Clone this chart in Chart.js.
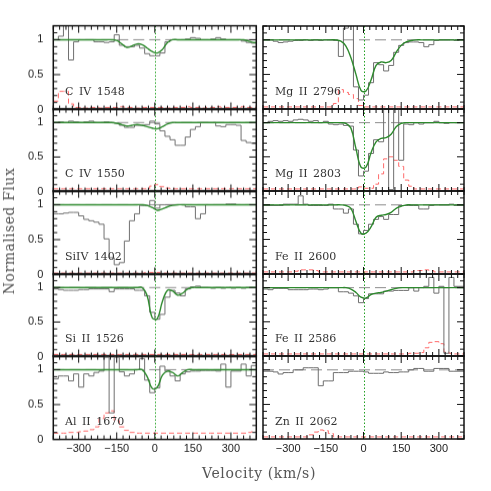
<!DOCTYPE html>
<html lang="en">
<head>
  <meta charset="UTF-8">
  <title>Velocity profiles</title>
  <script src="https://cdn.jsdelivr.net/npm/chart.js@4.4.0/dist/chart.umd.min.js"></script>
  <style>
    html, body { margin: 0; padding: 0; background: #fff; }
    #fig { position: relative; width: 491px; height: 491px; overflow: hidden; background: #fff; }
    #fig canvas { position: absolute; }
    .lbl { position: absolute; font-family: "DejaVu Serif", serif; font-size: 11px; line-height: 14px; color: #333; white-space: pre; word-spacing: 2px; }
    .title { position: absolute; font-family: "DejaVu Serif", serif; font-size: 14px; color: #555; white-space: nowrap; letter-spacing: 0.6px; transform: translate(-50%, -50%); }
  </style>
</head>
<body>
  <div id="fig"></div>

  <script>
    // bin centres (km/s)
    const vel = [-390, -370, -350, -330, -310, -290, -270, -250, -230, -210,
                 -190, -170, -150, -130, -110, -90, -70, -50, -30, -10,
                 10, 30, 50, 70, 90, 110, 130, 150, 170, 190,
                 210, 230, 250, 270, 290, 310, 330, 350, 370, 390];
    const binHalf = 10;
    const xTickLabels = [-300, -150, 0, 150, 300];
    const yTickLabels = [0, 0.5, 1];

    const civ1548Flux = [1.00, 1.05, 1.25, 0.71, 0.97, 1.00, 1.00, 1.00, 0.97, 0.97, 0.96, 0.97, 1.07, 0.92, 0.90, 0.90, 0.92, 0.88, 0.80, 0.77,
                         0.77, 0.81, 0.97, 1.00, 1.00, 1.00, 1.01, 1.03, 1.02, 1.00, 1.00, 1.01, 1.03, 1.01, 1.00, 1.00, 1.00, 0.98, 0.96, 0.95];
    const civ1548Fit  = [1, 1, 1, 1, 1, 1, 1, 1, 1, 1, 1, 1, 0.99, 0.94, 0.89, 0.91, 0.94, 0.93, 0.88, 0.83,
                         0.81, 0.86, 0.96, 1, 1, 1, 1, 1, 1, 1, 1, 1, 1, 1, 1, 1, 1, 1, 0.98, 0.96];
    const civ1548Err  = [0.12, 0.26, 0.26, 0.08, 0.03, 0.03, 0.02, 0.03, 0.03, 0.02, 0.03, 0.03, 0.03, 0.04, 0.03, 0.03, 0.02, 0.03, 0.03, 0.03,
                         0.03, 0.03, 0.02, 0.03, 0.03, 0.03, 0.04, 0.03, 0.03, 0.02, 0.03, 0.03, 0.04, 0.03, 0.03, 0.03, 0.03, 0.04, 0.03, 0.03];

    const civ1550Flux = [1.00, 1.01, 1.00, 1.02, 1.01, 1.00, 1.01, 1.02, 1.00, 1.00, 1.01, 1.00, 0.99, 0.96, 0.93, 0.93, 0.96, 0.96, 0.97, 1.02,
                         0.98, 0.88, 0.80, 0.75, 0.67, 0.67, 0.79, 0.90, 0.94, 1.00, 1.00, 1.00, 0.95, 0.94, 0.97, 0.97, 0.96, 0.74, 0.71, 0.70];
    const civ1550Fit  = [1, 1, 1, 1, 1, 1, 1, 1, 1, 1, 1, 1, 0.99, 0.97, 0.95, 0.96, 0.97, 0.96, 0.94, 0.92,
                         0.91, 0.94, 0.98, 1, 1, 1, 1, 1, 1, 1, 1, 1, 1, 1, 1, 1, 1, 1, 1, 1];
    const civ1550Err  = [0.04, 0.04, 0.04, 0.04, 0.04, 0.04, 0.04, 0.04, 0.04, 0.04, 0.04, 0.04, 0.04, 0.04, 0.04, 0.04, 0.04, 0.04, 0.04, 0.08,
                         0.10, 0.07, 0.05, 0.04, 0.04, 0.04, 0.04, 0.04, 0.04, 0.04, 0.04, 0.04, 0.04, 0.04, 0.04, 0.04, 0.04, 0.04, 0.04, 0.04];

    const mg2796Flux  = [1.00, 1.00, 0.98, 0.96, 0.97, 0.98, 0.99, 0.99, 1.00, 0.99, 1.00, 0.99, 1.00, 1.00, 0.99, 0.76, 1.17, 1.30, 0.32, 0.13,
                         0.20, 0.38, 0.67, 0.64, 0.55, 0.63, 0.82, 0.92, 0.96, 0.97, 0.97, 0.96, 0.90, 0.93, 0.99, 1.00, 1.00, 1.00, 0.99, 1.00];
    const mg2796Fit   = [1, 1, 1, 1, 1, 1, 1, 1, 1, 1, 1, 1, 1, 1, 1, 0.98, 0.91, 0.74, 0.50, 0.27,
                         0.26, 0.42, 0.63, 0.68, 0.67, 0.70, 0.82, 0.92, 0.97, 0.99, 1, 1, 1, 1, 1, 1, 1, 1, 1, 1];
    const mg2796Err   = [0.03, 0.03, 0.03, 0.03, 0.03, 0.03, 0.03, 0.03, 0.03, 0.03, 0.03, 0.03, 0.03, 0.03, 0.08, 0.28, 0.24, 0.21, 0.15, 0.05,
                         0.03, 0.03, 0.03, 0.03, 0.03, 0.03, 0.03, 0.03, 0.03, 0.03, 0.03, 0.03, 0.03, 0.03, 0.03, 0.03, 0.03, 0.03, 0.03, 0.03];

    const mg2803Flux  = [1.00, 1.02, 1.03, 1.02, 1.03, 1.02, 1.04, 1.05, 1.04, 1.02, 1.03, 1.00, 1.02, 0.98, 0.97, 0.98, 0.96, 0.95, 0.60, 0.22,
                         0.29, 0.55, 0.75, 0.72, 1.25, 0.02, 1.25, 0.45, 0.98, 0.97, 1.00, 0.98, 1.00, 1.00, 1.02, 1.00, 0.99, 1.00, 1.00, 1.00];
    const mg2803Fit   = [1, 1, 1, 1, 1, 1, 1, 1, 1, 1, 1, 1, 1, 1, 1, 1, 0.99, 0.92, 0.62, 0.35,
                         0.35, 0.56, 0.72, 0.77, 0.78, 0.83, 0.94, 0.99, 1, 1, 1, 1, 1, 1, 1, 1, 1, 1, 1, 1];
    const mg2803Err   = [0.03, 0.03, 0.03, 0.03, 0.03, 0.03, 0.03, 0.03, 0.03, 0.03, 0.03, 0.03, 0.03, 0.03, 0.03, 0.03, 0.03, 0.03, 0.03, 0.06,
                         0.04, 0.04, 0.10, 0.25, 0.47, 0.50, 0.45, 0.36, 0.16, 0.07, 0.03, 0.03, 0.03, 0.03, 0.03, 0.03, 0.03, 0.03, 0.03, 0.03];

    const si4Flux     = [0.87, 0.87, 0.88, 0.89, 0.89, 0.84, 0.79, 0.77, 0.75, 0.72, 0.51, 0.24, 0.14, 0.17, 0.48, 0.77, 0.87, 0.99, 0.99, 1.06,
                         0.95, 1.00, 1.00, 1.00, 1.00, 1.00, 0.97, 0.97, 0.80, 0.87, 1.00, 1.00, 1.00, 1.00, 1.01, 1.01, 1.00, 1.00, 1.00, 1.00];
    const si4Fit      = [1, 1, 1, 1, 1, 1, 1, 1, 1, 1, 1, 1, 1, 1, 1, 1, 1, 1, 0.99, 0.96,
                         0.92, 0.94, 0.97, 0.99, 1, 1, 1, 1, 1, 1, 1, 1, 1, 1, 1, 1, 1, 1, 1, 1];
    const si4Err      = [0.02, 0.02, 0.02, 0.02, 0.02, 0.02, 0.02, 0.02, 0.02, 0.02, 0.02, 0.02, 0.02, 0.02, 0.02, 0.02, 0.02, 0.02, 0.03, 0.03,
                         0.03, 0.02, 0.02, 0.02, 0.02, 0.02, 0.02, 0.02, 0.02, 0.02, 0.02, 0.02, 0.02, 0.02, 0.02, 0.02, 0.02, 0.02, 0.02, 0.02];

    const fe2600Flux  = [0.99, 0.99, 0.99, 0.99, 1.01, 1.01, 1.01, 1.13, 1.01, 0.99, 0.99, 0.99, 0.99, 1.01, 0.94, 0.94, 0.88, 0.94, 0.72, 0.58,
                         0.63, 0.72, 0.79, 0.83, 0.79, 0.86, 0.86, 0.99, 0.99, 0.99, 0.99, 0.94, 0.94, 0.99, 1.00, 1.00, 1.00, 1.01, 0.99, 0.99];
    const fe2600Fit   = [1, 1, 1, 1, 1, 1, 1, 1, 1, 1, 1, 1, 1, 1, 1, 1, 0.99, 0.95, 0.76, 0.59,
                         0.59, 0.68, 0.82, 0.85, 0.86, 0.89, 0.95, 0.98, 1, 1, 1, 1, 1, 1, 1, 1, 1, 1, 1, 1];
    const fe2600Err   = [0.03, 0.03, 0.03, 0.03, 0.03, 0.03, 0.04, 0.06, 0.06, 0.06, 0.05, 0.03, 0.03, 0.03, 0.03, 0.03, 0.03, 0.03, 0.03, 0.03,
                         0.03, 0.03, 0.03, 0.03, 0.03, 0.03, 0.03, 0.03, 0.03, 0.03, 0.05, 0.05, 0.06, 0.05, 0.03, 0.03, 0.03, 0.03, 0.03, 0.03];

    const si2Flux     = [0.98, 0.97, 0.96, 0.96, 0.96, 0.97, 0.97, 0.98, 0.98, 0.98, 0.98, 0.94, 0.98, 0.98, 0.98, 0.98, 0.96, 0.96, 0.88, 0.64,
                         0.54, 0.61, 0.86, 0.96, 0.92, 0.88, 0.98, 1.01, 1.02, 1.00, 1.00, 0.99, 1.00, 0.99, 1.00, 0.99, 1.00, 0.99, 1.00, 1.00];
    const si2Fit      = [1, 1, 1, 1, 1, 1, 1, 1, 1, 1, 1, 1, 1, 1, 1, 1, 1, 1, 0.88, 0.56,
                         0.55, 0.80, 0.96, 0.95, 0.89, 0.92, 0.98, 1, 1, 1, 1, 1, 1, 1, 1, 1, 1, 1, 1, 1];
    const si2Err      = [0.03, 0.03, 0.03, 0.03, 0.03, 0.03, 0.03, 0.03, 0.03, 0.03, 0.03, 0.03, 0.03, 0.03, 0.03, 0.03, 0.03, 0.03, 0.03, 0.03,
                         0.03, 0.03, 0.03, 0.03, 0.03, 0.03, 0.03, 0.03, 0.03, 0.03, 0.03, 0.03, 0.03, 0.03, 0.03, 0.03, 0.03, 0.03, 0.03, 0.03];

    const fe2586Flux  = [0.98, 0.97, 0.99, 0.99, 0.99, 0.97, 0.97, 0.97, 0.97, 0.98, 0.98, 0.97, 0.98, 1.00, 1.00, 0.94, 0.94, 0.92, 0.88, 0.78,
                         0.84, 0.91, 0.91, 0.91, 0.95, 0.95, 0.96, 0.96, 0.96, 1.00, 0.95, 1.00, 1.02, 1.15, 0.92, 1.02, 0.04, 1.15, 1.02, 1.02];
    const fe2586Fit   = [1, 1, 1, 1, 1, 1, 1, 1, 1, 1, 1, 1, 1, 1, 1, 1, 1, 0.98, 0.93, 0.86,
                         0.85, 0.90, 0.92, 0.93, 0.95, 0.97, 0.99, 1, 1, 1, 1, 1, 1, 1, 1, 1, 1, 1, 1, 1];
    const fe2586Err   = [0.03, 0.03, 0.03, 0.03, 0.03, 0.03, 0.03, 0.03, 0.03, 0.03, 0.03, 0.03, 0.03, 0.03, 0.03, 0.03, 0.03, 0.03, 0.03, 0.03,
                         0.03, 0.03, 0.03, 0.03, 0.03, 0.03, 0.03, 0.03, 0.03, 0.04, 0.04, 0.05, 0.12, 0.20, 0.21, 0.18, 0.06, 0.04, 0.03, 0.03];

    const al2Flux     = [0.87, 0.91, 0.91, 0.84, 0.94, 0.75, 0.94, 0.91, 0.96, 0.98, 1.18, 0.38, 1.18, 0.97, 0.91, 0.94, 1.00, 1.16, 0.85, 0.67,
                         0.74, 1.05, 0.98, 0.91, 0.84, 0.94, 0.97, 0.98, 0.98, 0.99, 0.99, 0.99, 0.98, 1.08, 0.75, 0.98, 0.98, 1.08, 0.91, 1.06];
    const al2Fit      = [1, 1, 1, 1, 1, 1, 1, 1, 1, 1, 1, 1, 1, 1, 1, 1, 1, 1, 0.90, 0.73,
                         0.75, 0.92, 0.98, 0.96, 0.91, 0.96, 1, 1, 1, 1, 1, 1, 1, 1, 1, 1, 1, 1, 1, 1];
    const al2Err      = [0.09, 0.09, 0.09, 0.10, 0.10, 0.11, 0.12, 0.14, 0.18, 0.30, 0.38, 0.41, 0.27, 0.18, 0.13, 0.10, 0.09, 0.09, 0.09, 0.09,
                         0.09, 0.09, 0.09, 0.09, 0.09, 0.09, 0.09, 0.09, 0.09, 0.09, 0.09, 0.09, 0.09, 0.09, 0.09, 0.09, 0.09, 0.09, 0.10, 0.11];

    const zn2Flux     = [0.98, 0.98, 0.97, 0.94, 0.96, 0.96, 1.00, 1.00, 1.03, 1.03, 1.03, 0.77, 0.84, 0.84, 0.96, 0.96, 0.96, 0.98, 0.98, 0.98,
                         0.97, 0.95, 0.95, 0.95, 0.97, 0.96, 0.96, 0.97, 0.97, 1.00, 1.02, 1.02, 0.98, 0.98, 1.02, 1.02, 1.02, 0.98, 0.98, 0.98];
    const zn2Err      = [0.03, 0.03, 0.03, 0.03, 0.03, 0.03, 0.03, 0.03, 0.03, 0.06, 0.10, 0.13, 0.12, 0.08, 0.03, 0.03, 0.03, 0.03, 0.03, 0.03,
                         0.03, 0.03, 0.03, 0.03, 0.03, 0.03, 0.03, 0.03, 0.03, 0.03, 0.03, 0.03, 0.03, 0.03, 0.03, 0.03, 0.03, 0.03, 0.03, 0.03];

    const panels = [
      { col: 0, row: 0, label: 'C IV 1548',  flux: civ1548Flux, fit: civ1548Fit, err: civ1548Err },
      { col: 0, row: 1, label: 'C IV 1550',  flux: civ1550Flux, fit: civ1550Fit, err: civ1550Err },
      { col: 0, row: 2, label: 'SiIV 1402',  flux: si4Flux,     fit: si4Fit,     err: si4Err },
      { col: 0, row: 3, label: 'Si II 1526', flux: si2Flux,     fit: si2Fit,     err: si2Err },
      { col: 0, row: 4, label: 'Al II 1670', flux: al2Flux,     fit: al2Fit,     err: al2Err },
      { col: 1, row: 0, label: 'Mg II 2796', flux: mg2796Flux,  fit: mg2796Fit,  err: mg2796Err },
      { col: 1, row: 1, label: 'Mg II 2803', flux: mg2803Flux,  fit: mg2803Fit,  err: mg2803Err },
      { col: 1, row: 2, label: 'Fe II 2600', flux: fe2600Flux,  fit: fe2600Fit,  err: fe2600Err },
      { col: 1, row: 3, label: 'Fe II 2586', flux: fe2586Flux,  fit: fe2586Fit,  err: fe2586Err },
      { col: 1, row: 4, label: 'Zn II 2062', flux: zn2Flux,     fit: null,       err: zn2Err }
    ];

    // where each panel's plotting box should land (px)
    const rowEdges = [26, 109, 191, 274, 356, 439];
    const colEdges = [[53, 256], [263, 464]];
    const fig = document.getElementById('fig');

    function histo(vals) {
      const pts = vel.map((v, i) => ({ x: v - binHalf, y: vals[i] }));
      pts.push({ x: vel[vel.length - 1] + binHalf, y: vals[vals.length - 1] });
      return pts;
    }
    function curve(vals) {
      const pts = vel.map((v, i) => ({ x: v, y: vals[i] }));
      pts.unshift({ x: -400, y: vals[0] });
      pts.push({ x: 400, y: vals[vals.length - 1] });
      return pts;
    }

    // continuum, zero-velocity marker, frame and inward ticks
    const framePlugin = {
      id: 'frame',
      beforeDatasetsDraw(chart) {
        const { ctx, chartArea: a, scales: { x, y } } = chart;
        ctx.save();
        ctx.beginPath();
        ctx.rect(a.left, a.top, a.width, a.height);
        ctx.clip();
        ctx.lineWidth = 1;
        ctx.strokeStyle = '#8c8c8c';
        ctx.setLineDash([11, 5]);
        const y1 = y.getPixelForValue(1);
        ctx.beginPath(); ctx.moveTo(a.left, y1); ctx.lineTo(a.right, y1); ctx.stroke();
        ctx.strokeStyle = '#22a022';
        ctx.setLineDash([1.5, 2]);
        const x0 = Math.round(x.getPixelForValue(0)) + 0.5;
        ctx.beginPath(); ctx.moveTo(x0, a.top); ctx.lineTo(x0, a.bottom); ctx.stroke();
        ctx.restore();
      },
      afterDatasetsDraw(chart) {
        const { ctx, chartArea: a, scales: { x, y } } = chart;
        ctx.save();
        ctx.strokeStyle = '#111';
        ctx.lineWidth = 1;
        ctx.beginPath();
        for (let v = -400; v <= 400; v += 25) {
          const px = x.getPixelForValue(v);
          const len = xTickLabels.includes(v) ? 7 : 4;
          ctx.moveTo(px, a.bottom); ctx.lineTo(px, a.bottom - len);
          ctx.moveTo(px, a.top); ctx.lineTo(px, a.top + len);
        }
        for (let k = 0; k <= 12; k++) {
          const py = y.getPixelForValue(k / 10);
          const len = (k % 5 === 0) ? 7 : 4;
          ctx.moveTo(a.left, py); ctx.lineTo(a.left + len, py);
          ctx.moveTo(a.right, py); ctx.lineTo(a.right - len, py);
        }
        ctx.stroke();
        ctx.lineWidth = 1.5;
        ctx.strokeRect(a.left, a.top, a.width, a.height);
        ctx.restore();
      }
    };

    function makePanel(p) {
      const [left, right] = colEdges[p.col];
      const top = rowEdges[p.row], bottom = rowEdges[p.row + 1];
      const last = p.row === 4;
      const cv = document.createElement('canvas');
      cv.width = (right - left) + 70;
      cv.height = (bottom - top) + 50;
      cv.style.left = '0px';
      cv.style.top = '0px';
      fig.appendChild(cv);

      const datasets = [];
      if (p.fit) {
        datasets.push({ data: curve(p.fit), borderColor: '#2f8a2f', borderWidth: 1.4,
                        tension: 0.4, pointRadius: 0, clip: 0 });
      }
      datasets.push({ data: histo(p.flux), borderColor: '#6f6f6f', borderWidth: 1,
                      stepped: 'before', pointRadius: 0, clip: 0 });
      datasets.push({ data: histo(p.err), borderColor: '#ff6a6a', borderWidth: 1, borderDash: [5, 3],
                      stepped: 'before', pointRadius: 0, clip: 0 });

      const chart = new Chart(cv, {
        type: 'line',
        data: { datasets },
        options: {
          responsive: false,
          maintainAspectRatio: false,
          animation: false,
          events: [],
          layout: { padding: { left: 2, right: 4, top: 8, bottom: 8 } },
          plugins: { legend: { display: false }, tooltip: { enabled: false } },
          scales: {
            x: {
              type: 'linear', min: -400, max: 400,
              grid: { display: false, drawTicks: false },
              border: { display: false },
              afterBuildTicks: s => { s.ticks = xTickLabels.map(v => ({ value: v })); },
              ticks: {
                display: last, padding: 3, color: '#222', maxRotation: 0, autoSkip: false,
                font: { family: 'Liberation Sans', size: 11 },
                callback: v => (v < 0 ? '\u2212' + Math.abs(v) : String(v))
              }
            },
            y: {
              type: 'linear', min: 0, max: 1.2,
              grid: { display: false, drawTicks: false },
              border: { display: false },
              afterBuildTicks: s => { s.ticks = yTickLabels.map(v => ({ value: v })); },
              ticks: {
                display: p.col === 0, padding: 10, color: '#222',
                font: { family: 'Liberation Sans', size: 11 },
                callback: v => String(v)
              }
            }
          }
        },
        plugins: [framePlugin]
      });

      // grow/shrink the canvas until its plotting box has the wanted size, then place it
      for (let i = 0; i < 4; i++) {
        const a = chart.chartArea;
        const dw = (right - left) - (a.right - a.left);
        const dh = (bottom - top) - (a.bottom - a.top);
        if (Math.abs(dw) < 0.25 && Math.abs(dh) < 0.25) break;
        chart.resize(chart.width + dw, chart.height + dh);
      }
      const a = chart.chartArea;
      cv.style.left = (left - a.left) + 'px';
      cv.style.top = (top - a.top) + 'px';

      const lbl = document.createElement('div');
      lbl.className = 'lbl';
      lbl.textContent = p.label;
      lbl.style.left = (left + 12) + 'px';
      lbl.style.top = (bottom - 24) + 'px';
      fig.appendChild(lbl);
    }

    panels.forEach(makePanel);

    const yTitle = document.createElement('div');
    yTitle.className = 'title';
    yTitle.textContent = 'Normalised Flux';
    yTitle.style.left = '9px';
    yTitle.style.top = '231px';
    yTitle.style.transform = 'translate(-50%, -50%) rotate(-90deg)';
    fig.appendChild(yTitle);

    const xTitle = document.createElement('div');
    xTitle.className = 'title';
    xTitle.textContent = 'Velocity (km/s)';
    xTitle.style.left = '259px';
    xTitle.style.top = '473px';
    fig.appendChild(xTitle);
  </script>
</body>
</html>
